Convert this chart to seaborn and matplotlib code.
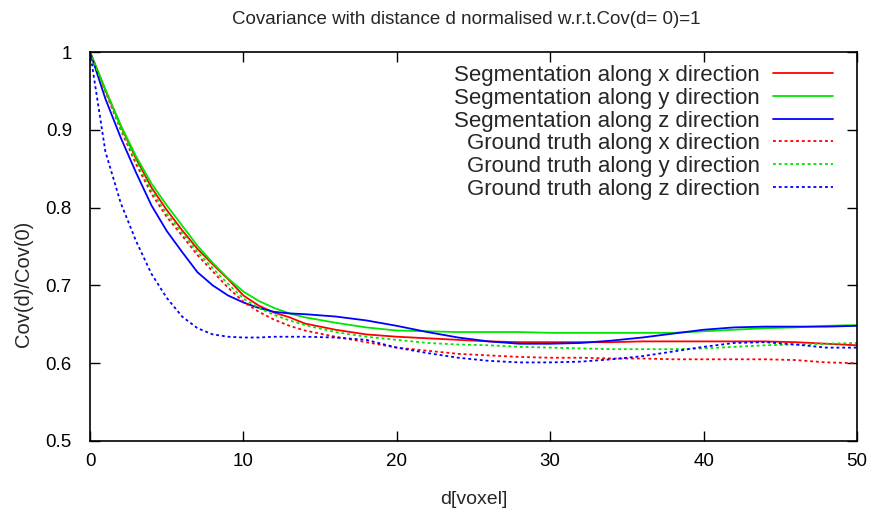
import numpy as np
import pandas as pd
import matplotlib
matplotlib.use("Agg")
import matplotlib.pyplot as plt
import seaborn as sns

# distance (voxels)
d = [0, 1, 2, 3, 4, 5, 6, 7, 8, 9, 10, 11, 12, 13, 14,
     16, 18, 20, 22, 24, 26, 28, 30, 32, 34, 36, 38, 40, 42, 44, 46, 48, 50]

seg_x = [1.0, 0.951, 0.905, 0.863, 0.826, 0.797, 0.771, 0.747, 0.727, 0.708, 0.687, 0.674, 0.665, 0.659, 0.651,
         0.643, 0.637, 0.634, 0.632, 0.630, 0.628, 0.627, 0.627, 0.627, 0.627, 0.628, 0.628, 0.628, 0.628, 0.628, 0.627, 0.625, 0.623]
seg_y = [1.0, 0.952, 0.906, 0.866, 0.831, 0.803, 0.777, 0.751, 0.729, 0.709, 0.692, 0.680, 0.671, 0.664, 0.659,
         0.652, 0.646, 0.642, 0.641, 0.640, 0.640, 0.640, 0.639, 0.639, 0.639, 0.639, 0.639, 0.641, 0.643, 0.645, 0.646, 0.648, 0.649]
seg_z = [1.0, 0.940, 0.890, 0.845, 0.803, 0.770, 0.743, 0.717, 0.700, 0.687, 0.678, 0.671, 0.666, 0.664, 0.663,
         0.660, 0.655, 0.648, 0.640, 0.633, 0.628, 0.625, 0.625, 0.626, 0.629, 0.633, 0.638, 0.643, 0.646, 0.647, 0.647, 0.647, 0.648]
gt_x = [1.0, 0.949, 0.900, 0.856, 0.818, 0.788, 0.764, 0.739, 0.718, 0.697, 0.679, 0.666, 0.656, 0.648, 0.642,
        0.634, 0.627, 0.620, 0.616, 0.612, 0.610, 0.608, 0.607, 0.607, 0.606, 0.606, 0.605, 0.605, 0.605, 0.605, 0.604, 0.601, 0.600]
gt_y = [1.0, 0.950, 0.902, 0.860, 0.822, 0.792, 0.768, 0.743, 0.722, 0.702, 0.683, 0.671, 0.662, 0.655, 0.649,
        0.640, 0.634, 0.630, 0.626, 0.624, 0.623, 0.621, 0.620, 0.619, 0.618, 0.618, 0.618, 0.619, 0.621, 0.623, 0.624, 0.625, 0.626]
gt_z = [1.0, 0.872, 0.806, 0.757, 0.715, 0.684, 0.660, 0.645, 0.637, 0.634, 0.633, 0.633, 0.634, 0.634, 0.634,
        0.633, 0.630, 0.620, 0.613, 0.607, 0.603, 0.601, 0.601, 0.602, 0.605, 0.609, 0.615, 0.621, 0.626, 0.627, 0.624, 0.620, 0.620]

labels = ["Segmentation along x direction", "Segmentation along y direction",
          "Segmentation along z direction", "Ground truth along x direction",
          "Ground truth along y direction", "Ground truth along z direction"]
colors = ["#ff0000", "#00e600", "#0000ff", "#ff0000", "#00e600", "#0000ff"]
series = [seg_x, seg_y, seg_z, gt_x, gt_y, gt_z]

sns.set_style("ticks")
plt.rcParams["font.family"] = ["Liberation Sans", "DejaVu Sans"]

fig = plt.figure(figsize=(8.75, 5.13), dpi=100)
ax = fig.add_axes([0.1029, 0.1404, 0.8765, 0.7582])

for i, (lab, vals) in enumerate(zip(labels, series)):
    df = pd.DataFrame({"d": d, "cov": vals})
    dashes = i >= 3
    sns.lineplot(data=df, x="d", y="cov", ax=ax, color=colors[i], label=lab,
                 linewidth=1.3, linestyle=(0, (1.6, 1.6)) if dashes else "-")

ax.set_xlim(0, 50)
ax.set_ylim(0.5, 1.0)
ax.set_xticks([0, 10, 20, 30, 40, 50])
ax.set_yticks([0.5, 0.6, 0.7, 0.8, 0.9, 1.0])
ax.set_yticklabels(["0.5", "0.6", "0.7", "0.8", "0.9", "1"])
ax.tick_params(direction="in", length=7, width=1, top=True, right=True,
               labelsize=13.5, colors="black")
ax.tick_params(axis="y", pad=13)
ax.tick_params(axis="x", pad=9)
for s in ax.spines.values():
    s.set_linewidth(1.2)
    s.set_color("black")

ax.set_xlabel("d[voxel]", fontsize=14, labelpad=15)
ax.set_ylabel("Cov(d)/Cov(0)", fontsize=14.5)
ax.yaxis.set_label_coords(-0.074, 0.404)
ax.set_title("Covariance with distance d normalised w.r.t.Cov(d= 0)=1", fontsize=13.5, pad=20, x=0.49)

leg = ax.legend(loc="upper right", bbox_to_anchor=(0.9687, 0.966), frameon=False,
                markerfirst=False, fontsize=16, handlelength=2.7, labelspacing=0.075,
                borderpad=0, borderaxespad=0, handletextpad=0.6)

fig.savefig("out.png", dpi=100)
